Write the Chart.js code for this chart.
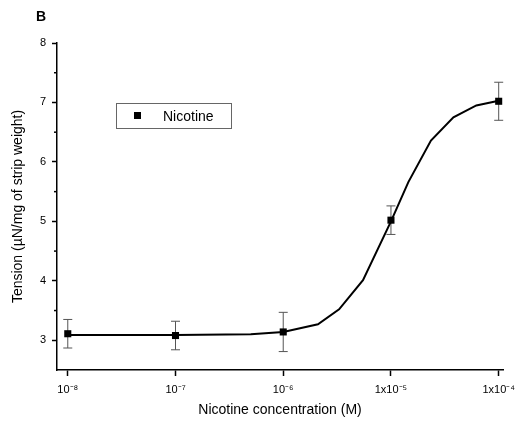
<!DOCTYPE html>
<html lang="en">
<head>
<meta charset="UTF-8">
<script src="https://cdn.jsdelivr.net/npm/chart.js"></script>
<title>Nicotine tension</title>
<style>
body { margin: 0; background: #fff; }
</style>
</head>
<body>
<canvas id="grafico" width="516" height="423"></canvas>
<script>
// mean points with error bars
const concentracoes = [1e-8, 1e-7, 1e-6, 1e-5, 1e-4];
const tensao = [3.11, 3.08, 3.14, 5.02, 7.02];
const erro = [0.24, 0.24, 0.33, 0.24, 0.32];

// fitted curve
const ajusteX = [1e-8, 1e-7, 5e-7, 1e-6, 2.1e-6, 3.3e-6, 5.5e-6, 1e-5, 1.45e-5, 2.35e-5, 3.8e-5, 6.2e-5, 1e-4];
const ajusteY = [3.09, 3.09, 3.10, 3.14, 3.27, 3.52, 4.01, 5.00, 5.66, 6.36, 6.75, 6.95, 7.03];

const rotulosX = ['10\u207B\u2078', '10\u207B\u2077', '10\u207B\u2076', '1x10\u207B\u2075', '1x10\u207B\u2074'];
const ticksMenoresY = [3.5, 4.5, 5.5, 6.5, 7.5];
const fonte = 'Arial, "Liberation Sans", sans-serif';

// error bars, drawn through the scales
const barrasErro = {
    id: 'barrasErro',
    beforeDatasetsDraw(chart) {
        const ctx = chart.ctx;
        const x = chart.scales.x, y = chart.scales.y;
        ctx.save();
        ctx.strokeStyle = '#555';
        ctx.lineWidth = 1;
        for (let i = 0; i < concentracoes.length; i++) {
            const px = x.getPixelForValue(concentracoes[i]);
            const topo = y.getPixelForValue(tensao[i] + erro[i]);
            const base = y.getPixelForValue(tensao[i] - erro[i]);
            ctx.beginPath();
            ctx.moveTo(px, topo); ctx.lineTo(px, base);
            ctx.moveTo(px - 4.5, topo); ctx.lineTo(px + 4.5, topo);
            ctx.moveTo(px - 4.5, base); ctx.lineTo(px + 4.5, base);
            ctx.stroke();
        }
        // short minor ticks on the y axis
        ctx.strokeStyle = '#000';
        ctx.lineWidth = 1.5;
        const ax = chart.chartArea.left;
        ticksMenoresY.forEach(v => {
            const py = y.getPixelForValue(v);
            ctx.beginPath();
            ctx.moveTo(ax - 3, py); ctx.lineTo(ax, py);
            ctx.stroke();
        });
        ctx.restore();
    }
};

// panel letter and the boxed legend inside the plot
const extras = {
    id: 'extras',
    afterDraw(chart) {
        const ctx = chart.ctx;
        ctx.save();
        ctx.fillStyle = '#000';
        ctx.font = 'bold 14px ' + fonte;
        ctx.textBaseline = 'alphabetic';
        ctx.fillText('B', 36, 21);

        ctx.strokeStyle = '#666';
        ctx.lineWidth = 1;
        ctx.strokeRect(116.5, 103.5, 115, 25);
        ctx.fillRect(134, 112, 7, 7);
        ctx.font = '14px ' + fonte;
        ctx.fillText(chart.data.datasets[0].label, 163, 121);
        ctx.restore();
    }
};

new Chart(document.getElementById('grafico'), {
    type: 'scatter',
    data: {
        datasets: [{
            label: 'Nicotine',
            data: concentracoes.map((c, i) => ({ x: c, y: tensao[i] })),
            pointStyle: 'rect',
            pointRadius: 5,
            backgroundColor: '#000',
            borderColor: '#000',
            borderWidth: 0,
            showLine: false
        }, {
            label: 'ajuste',
            data: ajusteX.map((c, i) => ({ x: c, y: ajusteY[i] })),
            showLine: true,
            borderColor: '#000',
            borderWidth: 2,
            pointRadius: 0,
            tension: 0
        }]
    },
    options: {
        responsive: false,
        animation: false,
        layout: { padding: { top: 43, right: 13, left: 0, bottom: 0 } },
        plugins: { legend: { display: false }, tooltip: { enabled: false } },
        scales: {
            x: {
                type: 'logarithmic',
                min: Math.pow(10, -8.1),
                max: Math.pow(10, -3.96),
                afterBuildTicks(scale) {
                    scale.ticks = concentracoes.map(v => ({ value: v }));
                },
                afterFit(scale) {
                    scale.height = 53;
                    scale.paddingLeft = 0;
                    scale.paddingRight = 0;
                },
                ticks: {
                    callback: (v, i) => rotulosX[i],
                    color: '#000',
                    font: { family: fonte, size: 11 },
                    padding: 7,
                    maxRotation: 0,
                    autoSkip: false
                },
                grid: { drawOnChartArea: false, tickLength: 6, color: '#000', tickWidth: 1.5 },
                border: { color: '#000', width: 1.5 },
                title: {
                    display: true,
                    text: 'Nicotine concentration (M)',
                    color: '#000',
                    font: { family: fonte, size: 14 },
                    padding: { top: 0, bottom: 4 }
                }
            },
            y: {
                min: 2.5,
                max: 8,
                afterFit(scale) {
                    scale.width = 57;
                },
                ticks: {
                    stepSize: 0.5,
                    callback: v => Number.isInteger(v) ? v : '',
                    color: '#000',
                    font: { family: fonte, size: 11 },
                    padding: 6
                },
                grid: {
                    drawOnChartArea: false,
                    tickLength: 5,
                    tickWidth: 1.5,
                    tickColor: c => c.tick && Number.isInteger(c.tick.value) ? '#000' : 'rgba(0,0,0,0)'
                },
                border: { color: '#000', width: 1.5 },
                title: {
                    display: true,
                    text: 'Tension (\u00B5N/mg of strip weight)',
                    color: '#000',
                    font: { family: fonte, size: 14 },
                    padding: { top: 10, bottom: 0 }
                }
            }
        }
    },
    plugins: [barrasErro, extras]
});
</script>
</body>
</html>
